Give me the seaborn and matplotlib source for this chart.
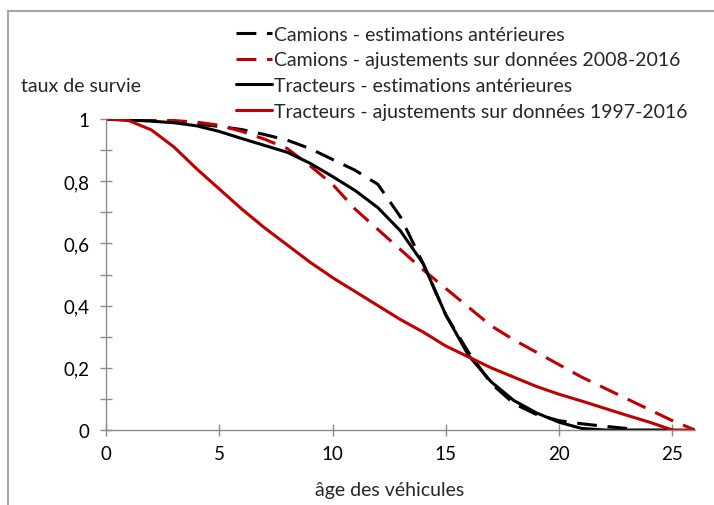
#!/usr/bin/env python3
# coding=utf-8
# Courbes de survie des camions et tracteurs selon l'âge

from matplotlib import pyplot as plt
from matplotlib.patches import Rectangle
from matplotlib.ticker import MultipleLocator
import pandas as pd
import seaborn as sns

# --- data ---
ages_camions_est = list(range(0, 24))
survie_camions_est = [1.0, 1.0, 0.995, 0.99, 0.984, 0.976, 0.966, 0.95, 0.932, 0.905,
                      0.87, 0.835, 0.79, 0.685, 0.535, 0.37, 0.25, 0.15, 0.085, 0.05,
                      0.03, 0.02, 0.012, 0.005]

ages_camions_ajust = list(range(0, 27))
survie_camions_ajust = [1.0, 1.0, 0.998, 0.995, 0.99, 0.98, 0.96, 0.935, 0.905, 0.85,
                        0.79, 0.71, 0.645, 0.58, 0.515, 0.455, 0.395, 0.335, 0.29, 0.25,
                        0.21, 0.17, 0.135, 0.1, 0.065, 0.03, 0.0]

ages_tracteurs_est = list(range(0, 26))
survie_tracteurs_est = [1.0, 0.997, 0.993, 0.988, 0.978, 0.96, 0.937, 0.915, 0.893, 0.858,
                        0.815, 0.77, 0.715, 0.64, 0.535, 0.37, 0.24, 0.155, 0.095, 0.055,
                        0.025, 0.005, 0.0, 0.0, 0.0, 0.0]

ages_tracteurs_ajust = list(range(0, 27))
survie_tracteurs_ajust = [1.0, 0.995, 0.965, 0.91, 0.84, 0.775, 0.71, 0.65, 0.595, 0.54,
                          0.49, 0.445, 0.4, 0.355, 0.315, 0.27, 0.235, 0.2, 0.17, 0.14,
                          0.115, 0.093, 0.07, 0.047, 0.025, 0.0, 0.0]

series_labels = ["Camions - estimations antérieures",
                 "Camions - ajustements sur données 2008-2016",
                 "Tracteurs - estimations antérieures",
                 "Tracteurs - ajustements sur données 1997-2016"]

x_ticks = [0, 5, 10, 15, 20, 25]
y_ticks = [0, 0.2, 0.4, 0.6, 0.8, 1]
y_tick_labels = ["0", "0,2", "0,4", "0,6", "0,8", "1"]

RED = "#C00000"
GREY = "#8c8c8c"
FS = 14
FS_TICK = 13.5


def plot_graph(fig_location: str = "out.png"):
    sns.set_theme(style="white")
    plt.rcParams["font.family"] = ["Lato", "DejaVu Sans"]

    fig = plt.figure(figsize=(7.14, 5.06), dpi=100)
    ax = fig.add_axes([106 / 714, 75 / 506, 589 / 714, 311 / 506])

    curves = [
        (ages_camions_est, survie_camions_est, "black", True),
        (ages_camions_ajust, survie_camions_ajust, RED, True),
        (ages_tracteurs_est, survie_tracteurs_est, "black", False),
        (ages_tracteurs_ajust, survie_tracteurs_ajust, RED, False),
    ]
    handles = []
    for (ages, survie, color, dashed), label in zip(curves, series_labels):
        df = pd.DataFrame({"age": ages, "survie": survie})
        sns.lineplot(data=df, x="age", y="survie", ax=ax, color=color, linewidth=2.2,
                     label=label, legend=False)
        line = ax.lines[-1]
        if dashed:
            line.set_dashes((6.5, 3.5))
            line.set_dash_capstyle("butt")
        handles.append(line)

    ax.set_xlim(0, 26)
    ax.set_ylim(0, 1)
    ax.set_xticks(x_ticks)
    ax.set_yticks(y_ticks)
    ax.set_yticklabels(y_tick_labels)
    ax.yaxis.set_minor_locator(MultipleLocator(0.1))
    ax.set_xlabel(None)
    ax.set_ylabel(None)

    for side in ["top", "right"]:
        ax.spines[side].set_visible(False)
    for side in ["left", "bottom"]:
        ax.spines[side].set_color(GREY)
        ax.spines[side].set_linewidth(1.0)
    ax.tick_params(axis="y", which="both", direction="inout", length=8, width=1,
                   color=GREY, left=True, labelsize=FS_TICK, labelcolor="black", pad=8)
    ax.tick_params(axis="x", which="both", direction="inout", length=8, width=1,
                   color=GREY, bottom=True, labelsize=FS_TICK, labelcolor="black", pad=7)

    fig.text(81 / 714, 1 - 86 / 506, "taux de survie", ha="center", va="center", fontsize=FS)
    fig.text(390 / 714, 1 - 491 / 506, "âge des véhicules", ha="center", va="center", fontsize=FS)

    fig.legend(handles=handles, labels=series_labels, loc="upper left",
               bbox_to_anchor=(226 / 714, 1 - 17 / 506), frameon=False, fontsize=FS,
               handlelength=1.85, handletextpad=0.1, labelspacing=0.45, borderpad=0)

    # chart area border, as in the office export
    fig.patches.append(Rectangle((8 / 714, -0.5), 2, 0.5 + 1 - 12 / 506,
                                 transform=fig.transFigure, fill=False,
                                 edgecolor="#a6a6a6", linewidth=1.5))

    fig.savefig(fig_location, dpi=100)


if __name__ == "__main__":
    plot_graph("out.png")
